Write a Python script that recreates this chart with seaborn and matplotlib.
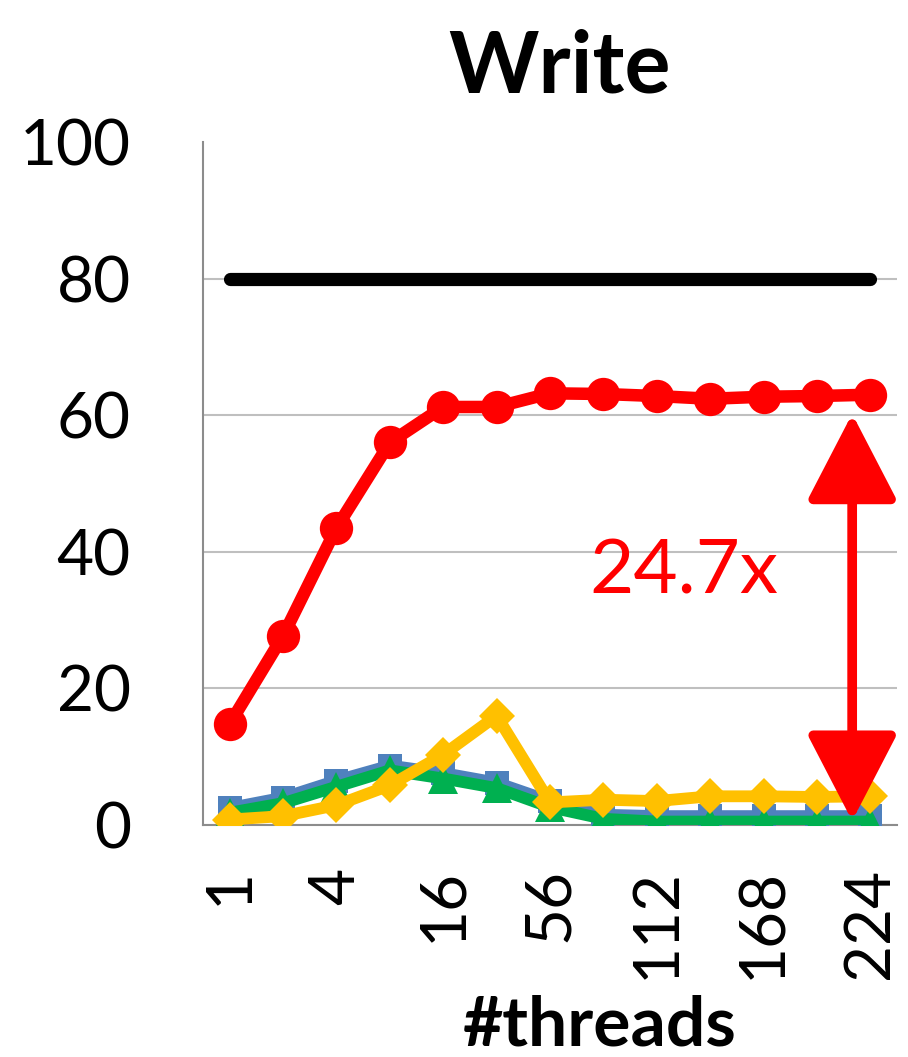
"""
Write throughput vs #threads - line chart recreation
"""

import numpy as np
import matplotlib
matplotlib.use('Agg')
import matplotlib.pyplot as plt
import seaborn as sns

# Data
threads = ['1', '2', '4', '8', '16', '28', '56', '84', '112', '140', '168', '196', '224']
shown_labels = ['1', '4', '16', '56', '112', '168', '224']

black_vals = [80, 80, 80, 80, 80, 80, 80, 80, 80, 80, 80, 80, 80]
red_vals = [14.8, 27.7, 43.5, 56.0, 61.2, 61.2, 63.2, 63.1, 62.8, 62.4, 62.7, 62.8, 63.0]
blue_vals = [2.5, 4.0, 6.5, 8.7, 7.6, 6.2, 3.5, 1.5, 1.3, 1.3, 1.3, 1.3, 1.3]
green_vals = [1.8, 3.2, 5.6, 8.0, 6.8, 5.4, 2.6, 0.9, 0.5, 0.5, 0.5, 0.5, 0.5]
yellow_vals = [0.8, 1.3, 2.9, 5.8, 10.3, 16.0, 3.3, 3.7, 3.5, 4.2, 4.2, 4.1, 4.2]

speedup_text = '24.7x'

sns.set_style('white')
plt.rcParams['font.family'] = ['Lato', 'DejaVu Sans']
plt.rcParams['text.color'] = 'black'
plt.rcParams['xtick.color'] = 'black'
plt.rcParams['ytick.color'] = 'black'

fig = plt.figure(figsize=(9.08, 10.57), dpi=100)
ax = fig.add_axes([0.2236, 0.2195, 0.7643, 0.6462])

x = np.arange(len(threads))

sns.lineplot(x=x, y=blue_vals, ax=ax, color='#4F81BD', linewidth=8.5,
             marker='s', markersize=17, markeredgewidth=0, zorder=3)
sns.lineplot(x=x, y=green_vals, ax=ax, color='#00B050', linewidth=8.5,
             marker='^', markersize=21, markeredgewidth=0, zorder=4)
sns.lineplot(x=x, y=yellow_vals, ax=ax, color='#FFC000', linewidth=8.5,
             marker='D', markersize=18, markeredgewidth=0, zorder=5)
sns.lineplot(x=x, y=red_vals, ax=ax, color='#FF0000', linewidth=9,
             marker='o', markersize=24, markeredgewidth=0, zorder=6)
sns.lineplot(x=x, y=black_vals, ax=ax, color='black', linewidth=9.5,
             zorder=6)
for line in ax.get_lines():
    line.set_solid_capstyle('round')

# double arrow showing the gap at 224 threads
ax.annotate('', xy=(11.66, 60.2), xytext=(11.66, 0.6),
            arrowprops=dict(arrowstyle='<|-|>,head_length=5.4,head_width=2.8',
                            color='#FF0000', linewidth=7, mutation_scale=10,
                            shrinkA=0, shrinkB=0),
            zorder=8)
ax.text(8.5, 37, speedup_text, color='#FF0000', fontsize=55,
        ha='center', va='center', zorder=9)

ax.set_xlim(-0.5, 12.5)
ax.set_ylim(0, 100)
ax.set_yticks([0, 20, 40, 60, 80, 100])
ax.set_yticklabels(['0', '20', '40', '60', '80', '100'], fontsize=46)
ax.set_xticks(x[::2])
ax.set_xticklabels(shown_labels, rotation=90, fontsize=46, va='top', ha='center')
ax.tick_params(axis='y', length=0, pad=52)
ax.tick_params(axis='x', length=0, pad=31)

ax.grid(axis='y', color='#BFBFBF', linewidth=1.5)
ax.get_ygridlines()[-1].set_visible(False)
ax.set_axisbelow(True)
for side in ['top', 'right']:
    ax.spines[side].set_visible(False)
for side in ['left', 'bottom']:
    ax.spines[side].set_color('#8C8C8C')
    ax.spines[side].set_linewidth(1.5)
ax.set_xlabel('')
ax.set_ylabel('')

fig.text(560 / 908, 1 - 68 / 1057, 'Write', fontsize=62, fontweight='bold',
         ha='center', va='center')
fig.text(600 / 908, 1 - 1026 / 1057, '#threads', fontsize=50, fontweight='bold',
         ha='center', va='center')

fig.savefig('out.png', dpi=100)
